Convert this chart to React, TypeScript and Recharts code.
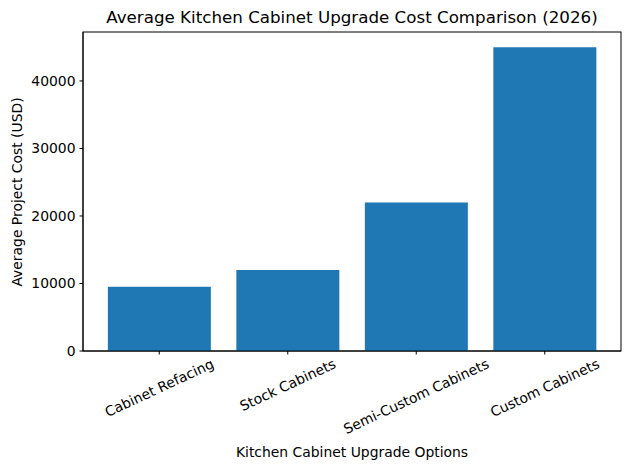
import { BarChart, Bar, XAxis, YAxis, ReferenceArea } from "recharts";

const categories = ["Cabinet Refacing", "Stock Cabinets", "Semi-Custom Cabinets", "Custom Cabinets"];
const costs = [9500, 12000, 22000, 45000];
const yTicks = [0, 10000, 20000, 30000, 40000];
const yMax = 47250;

const data = categories.map((name, i) => ({ name, cost: costs[i] }));

const FONT = "'DejaVu Sans', sans-serif";
const FS = 13.9;
const ANGLE = 25;
const X_PAD = 12;

let ctx: CanvasRenderingContext2D | null = null;
const textWidth = (s: string) => {
  if (!ctx) ctx = document.createElement("canvas").getContext("2d");
  if (!ctx) return s.length * 8;
  ctx.font = `${FS}px 'DejaVu Sans'`;
  return ctx.measureText(s).width;
};

// rotated label, box top just under the tick, centred on it
const RotatedTick = ({ x, y, payload }) => {
  const w = textWidth(payload.value);
  const rad = (ANGLE * Math.PI) / 180;
  const boxH = w * Math.sin(rad) + FS * 1.15 * Math.cos(rad);
  const cy = y - 1 + boxH / 2;
  return (
    <text
      x={x}
      y={cy}
      textAnchor="middle"
      dominantBaseline="central"
      transform={`rotate(-${ANGLE}, ${x}, ${cy})`}
      fontFamily={FONT}
      fontSize={FS}
      fill="#000"
    >
      {payload.value}
    </text>
  );
};

// frame around the whole plot area (reference area stops at the padded band edges)
const Frame = ({ x, y, width, height }) => (
  <rect x={x - X_PAD} y={y} width={width + 2 * X_PAD} height={height} fill="none" stroke="#000" strokeWidth={1} />
);

export default function App() {
  return (
    <div style={{ position: "absolute", left: 0, top: 0, width: 630, height: 470, background: "#fff" }}>
      <div
        style={{
          position: "absolute",
          left: 83,
          width: 538,
          top: 7,
          textAlign: "center",
          fontFamily: FONT,
          fontSize: 16.7,
          lineHeight: "20px",
          color: "#000",
        }}
      >
        Average Kitchen Cabinet Upgrade Cost Comparison (2026)
      </div>
      <div
        style={{
          position: "absolute",
          left: 83,
          width: 538,
          top: 443,
          textAlign: "center",
          fontFamily: FONT,
          fontSize: FS,
          lineHeight: "18px",
          color: "#000",
        }}
      >
        Kitchen Cabinet Upgrade Options
      </div>
      <div
        style={{
          position: "absolute",
          left: 17 - 150,
          top: 191.5 - 9,
          width: 300,
          textAlign: "center",
          transform: "rotate(-90deg)",
          fontFamily: FONT,
          fontSize: FS,
          lineHeight: "18px",
          color: "#000",
        }}
      >
        Average Project Cost (USD)
      </div>
      <BarChart
        width={630}
        height={470}
        data={data}
        margin={{ top: 32, right: 9, bottom: 59, left: 23 }}
        barCategoryGap="10%"
        style={{ position: "absolute", left: 0, top: 0 }}
      >
        <XAxis
          dataKey="name"
          interval={0}
          height={60}
          padding={{ left: X_PAD, right: X_PAD }}
          axisLine={{ stroke: "#000", strokeWidth: 1 }}
          tickLine={{ stroke: "#000" }}
          tickSize={3.5}
          tick={RotatedTick}
        />
        <YAxis
          width={60}
          domain={[0, yMax]}
          ticks={yTicks}
          allowDataOverflow
          axisLine={{ stroke: "#000", strokeWidth: 1 }}
          tickLine={{ stroke: "#000" }}
          tickSize={3.5}
          tickMargin={4}
          tick={{ fill: "#000", fontFamily: FONT, fontSize: FS }}
        />
        <Bar dataKey="cost" fill="#1f77b4" isAnimationActive={false} />
        <ReferenceArea y1={0} y2={yMax} shape={Frame} />
      </BarChart>
    </div>
  );
}
